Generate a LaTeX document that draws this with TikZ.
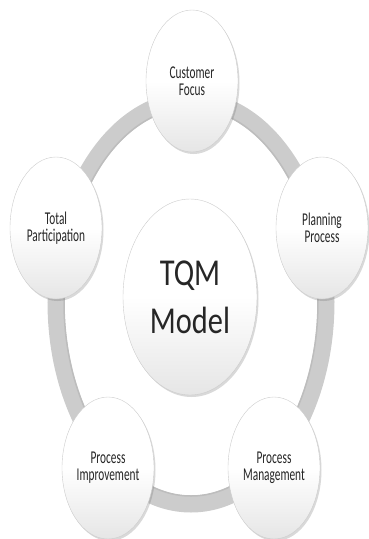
\documentclass[tikz,border=0pt]{standalone}
\usepackage{fontspec}
\usepackage{tikz}
\usetikzlibrary{shapes.geometric,shadows}

\newfontfamily\petalfont[FakeStretch=0.63]{Carlito}
\newfontfamily\hubfont[FakeStretch=0.8]{Carlito}

\tikzset{
  petal/.style={ellipse, draw=black!20, line width=0.4pt,
    top color=white, bottom color=black!10, middle color=white,
    drop shadow={shadow xshift=1.5pt, shadow yshift=-2pt, opacity=0.25, fill=black!60},
    minimum width=92pt, minimum height=142pt, inner sep=0pt,
    align=center, text=black!85,
    font=\petalfont\fontsize{18}{17}\selectfont},
  hub/.style={petal, minimum width=134pt, minimum height=196pt,
    font=\hubfont\fontsize{38}{48}\selectfont},
  ring/.style={draw=black!20, line width=17pt}
}

\begin{document}
\begin{tikzpicture}[x=1pt,y=-1pt]
    \useasboundingbox (0,0) rectangle (369,539);
    \draw[ring] (191,302) ellipse [x radius=135pt, y radius=202pt];
    \draw[black!26, line width=1.5pt] (191,302) ellipse [x radius=127pt, y radius=194pt];

    \node[petal] (focus) at (192,81) {Customer\\Focus};
    \node[petal] (part) at (56,228) {Total\\Participation};
    \node[petal] (plan) at (322,228) {Planning\\Process};
    \node[hub] (tqm) at (190,297) {TQM\\Model};
    \node[petal] (impr) at (108,468) {Process\\Improvement};
    \node[petal] (mgmt) at (274,468) {Process\\Management};
\end{tikzpicture}
\end{document}
